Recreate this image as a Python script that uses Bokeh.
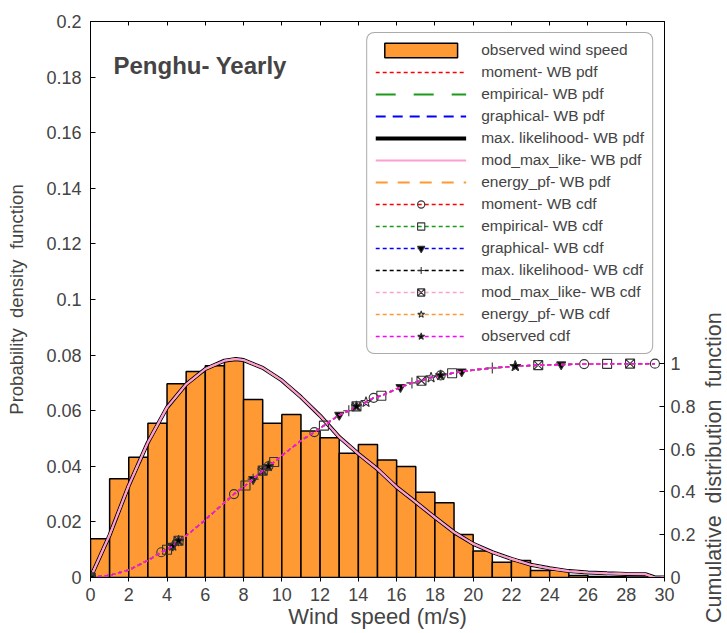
import math
from bokeh.plotting import figure
from bokeh.models import Range1d, LinearAxis, FixedTicker, Legend, LegendItem, Label
from bokeh.embed import file_html
from bokeh.resources import INLINE

# ---------------- data ----------------
bin_left = list(range(0, 30))
obs_pdf = [0.0139, 0.0355, 0.0433, 0.0555, 0.0697, 0.0741, 0.0762, 0.0781, 0.0640, 0.0555,
           0.0586, 0.0527, 0.0503, 0.0447, 0.0478, 0.0423, 0.0399, 0.0307, 0.0269, 0.0155,
           0.0095, 0.0055, 0.0061, 0.0025, 0.0026, 0.0007, 0.0004, 0.0003, 0.0002, 0.0001]

pdf_x = [0, 1, 2, 3, 4, 5, 6, 7, 7.6, 8, 9, 10, 11, 12, 13, 14, 15, 16, 17, 18, 19, 20,
         21, 22, 23, 24, 25, 26, 27, 28, 29, 29.5, 30]
pdf_fit = [0.0, 0.0153, 0.0331, 0.0486, 0.0612, 0.0695, 0.0750, 0.0780, 0.0786, 0.0782,
           0.0754, 0.0709, 0.0649, 0.0582, 0.0505, 0.0445, 0.0390, 0.0325, 0.0271, 0.0216,
           0.0163, 0.0121, 0.0091, 0.0067, 0.0046, 0.0033, 0.0023, 0.0018, 0.0015, 0.0013,
           0.0012, 0.0, 0.0]

cdf_x = [0, 1, 2, 3, 3.7, 4.0, 4.3, 4.6, 5, 6, 7, 7.5, 7.8, 8.1, 8.5, 9.0, 9.3, 9.6, 10, 11,
         11.7, 12.2, 13, 13.5, 13.9, 14.4, 14.8, 15.2, 15.7, 16.2, 16.8, 17.3, 17.8, 18.3,
         18.9, 19.4, 20, 21, 22.2, 23.4, 24.6, 25.8, 27.0, 28.2, 29.5]
cdf_y = [0.0, 0.01, 0.035, 0.08, 0.118, 0.13, 0.148, 0.172, 0.195, 0.27, 0.35, 0.39, 0.41,
         0.43, 0.46, 0.50, 0.52, 0.54, 0.57, 0.64, 0.68, 0.71, 0.76, 0.78, 0.80, 0.82, 0.84,
         0.85, 0.87, 0.89, 0.91, 0.92, 0.935, 0.945, 0.955, 0.963, 0.97, 0.98, 0.988, 0.993,
         0.996, 0.998, 0.999, 1.0, 1.0]

mk_moment = [0, 3.7, 7.5, 9.3, 11.7, 14.8, 18.3, 25.8, 29.5]
mk_empirical = [0, 4.0, 8.1, 9.6, 12.2, 15.2, 18.9, 27.0]
mk_graphical = [0, 4.3, 8.5, 13.0, 16.2, 19.4, 24.6]
mk_maxlike = [0, 4.6, 8.5, 13.5, 16.8, 21.0]
mk_modmax = [0, 4.6, 9.0, 13.9, 17.3, 23.4, 28.2]
mk_energy = [0, 4.3, 9.0, 14.4, 17.8, 22.2]
mk_observed = [0, 4.6, 9.3, 13.9, 18.3, 22.2]

x_ticks = list(range(0, 31, 2))
pdf_ticks = [0, 0.02, 0.04, 0.06, 0.08, 0.1, 0.12, 0.14, 0.16, 0.18, 0.2]
pdf_tick_labels = ["0", "0.02", "0.04", "0.06", "0.08", "0.1", "0.12", "0.14", "0.16", "0.18", "0.2"]
cdf_ticks = [0, 0.2, 0.4, 0.6, 0.8, 1.0]
cdf_tick_labels = ["0", "0.2", "0.4", "0.6", "0.8", "1"]

FONT = "Liberation Sans"
NB = "\u00a0"
cdf_lookup = dict(zip(cdf_x, cdf_y))

p = figure(width=727, height=633, output_backend="svg", toolbar_location=None,
           x_range=Range1d(0, 30), y_range=Range1d(0, 0.2),
           min_border_left=90, min_border_right=63, min_border_top=21, min_border_bottom=56)
p.extra_y_ranges = {"cdf": Range1d(0, 2.6)}
p.xgrid.visible = False
p.ygrid.visible = False
p.outline_line_color = "black"
p.outline_line_width = 1
p.background_fill_color = "white"
p.border_fill_color = "white"

# axes
xa = p.xaxis[0]
xa.ticker = FixedTicker(ticks=x_ticks)
xa.major_tick_in = 0
xa.major_tick_out = 4
xa.minor_tick_line_color = None
xa.major_label_standoff = 6
xa.major_label_text_font = FONT
xa.major_label_text_font_size = "18px"
xa.axis_label = "Wind" + NB + " speed (m/s)"
xa.axis_label_text_font = FONT
xa.axis_label_text_font_size = "22px"
xa.axis_label_text_font_style = "normal"
xa.axis_label_standoff = 0

ya = p.yaxis[0]
ya.ticker = FixedTicker(ticks=pdf_ticks)
ya.major_label_overrides = {t: l for t, l in zip(pdf_ticks, pdf_tick_labels)}
ya.major_tick_in = 5
ya.major_tick_out = 0
ya.minor_tick_line_color = None
ya.major_label_standoff = 9
ya.major_label_text_font = FONT
ya.major_label_text_font_size = "18px"
ya.axis_label = "Probability" + NB + " density" + NB + " function"
ya.axis_label_text_font = FONT
ya.axis_label_text_font_size = "18.5px"
ya.axis_label_text_font_style = "normal"
ya.axis_label_standoff = 16

top = LinearAxis(ticker=FixedTicker(ticks=x_ticks), major_tick_in=4, major_tick_out=0,
                 minor_tick_line_color=None,
                 major_label_overrides={t: "" for t in x_ticks},
                 major_label_standoff=0)
p.add_layout(top, "above")

ra = LinearAxis(y_range_name="cdf", ticker=FixedTicker(ticks=cdf_ticks),
                major_label_overrides={t: l for t, l in zip(cdf_ticks, cdf_tick_labels)},
                major_tick_in=5, major_tick_out=0, minor_tick_line_color=None,
                major_label_standoff=6, major_label_text_font=FONT,
                major_label_text_font_size="18px")
p.add_layout(ra, "right")

# bars
bars = p.vbar(x=[b + 0.5 for b in bin_left], top=obs_pdf, width=1, bottom=0,
              fill_color="#ff9933", line_color="black", line_width=1.5)

# pdf curves
r_ml = p.line(pdf_x, pdf_fit, line_color="black", line_width=4)
r_mom = p.line(pdf_x, pdf_fit, line_color="red", line_width=1.5, line_dash="4 3")
r_emp = p.line(pdf_x, pdf_fit, line_color="#1a9a1a", line_width=1.8, line_dash="20 18")
r_gra = p.line(pdf_x, pdf_fit, line_color="blue", line_width=1.8, line_dash="10 7")
r_en = p.line(pdf_x, pdf_fit, line_color="#ff9933", line_width=1.8, line_dash="12 10")
r_mm = p.line(pdf_x, pdf_fit, line_color="#ff9fd0", line_width=2.2)

# cdf curves
def cdf_series(color, marker, mk, fill, size=9, width=1.5):
    ln = p.line(cdf_x, cdf_y, line_color=color, line_width=width, line_dash="4 3",
                y_range_name="cdf")
    sc = p.scatter([x for x in mk], [cdf_lookup[x] for x in mk], marker=marker, size=size,
                   line_color="#333333", fill_color=fill, line_width=1.1, y_range_name="cdf")
    return [ln, sc]

c_mom = cdf_series("red", "circle", mk_moment, None)
c_emp = cdf_series("#1a9a1a", "square", mk_empirical, None)
c_gra = cdf_series("blue", "inverted_triangle", mk_graphical, "black")
c_ml = cdf_series("black", "cross", mk_maxlike, None, size=11)
c_mm = cdf_series("#ff9fd0", "square_x", mk_modmax, None)
c_en = cdf_series("#ff9933", "star", mk_energy, None, size=11)
c_obs = cdf_series("magenta", "star", mk_observed, "black", size=11)

items = [
    LegendItem(label="observed wind speed", renderers=[bars]),
    LegendItem(label="moment- WB pdf", renderers=[r_mom]),
    LegendItem(label="empirical- WB pdf", renderers=[r_emp]),
    LegendItem(label="graphical- WB pdf", renderers=[r_gra]),
    LegendItem(label="max. likelihood- WB pdf", renderers=[r_ml]),
    LegendItem(label="mod_max_like- WB pdf", renderers=[r_mm]),
    LegendItem(label="energy_pf- WB pdf", renderers=[r_en]),
    LegendItem(label="moment- WB cdf", renderers=c_mom),
    LegendItem(label="empirical- WB cdf", renderers=c_emp),
    LegendItem(label="graphical- WB cdf", renderers=c_gra),
    LegendItem(label="max. likelihood- WB cdf", renderers=c_ml),
    LegendItem(label="mod_max_like- WB cdf", renderers=c_mm),
    LegendItem(label="energy_pf- WB cdf", renderers=c_en),
    LegendItem(label="observed cdf", renderers=c_obs),
]
legend = Legend(items=items, location="top_right", margin=11, padding=8, spacing=4,
                glyph_width=91, glyph_height=18, label_height=18, label_standoff=15,
                label_text_font=FONT, label_text_font_size="15.5px",
                border_line_color="#555555", border_line_width=1.5,
                background_fill_color="white", background_fill_alpha=1)
if "border_radius" in Legend.properties():
    legend.border_radius = 8
p.add_layout(legend)

p.add_layout(Label(x=1.2, y=0.184, text="Penghu- Yearly", text_font=FONT,
                   text_font_size="24px", text_font_style="bold",
                   text_baseline="middle", text_align="left"))

# title of the right (cdf) axis, placed in the right side panel so it is not clipped
cdf_title = "Cumulative" + NB + " distribution" + NB + " function"
p.add_layout(Label(x=32.58, y=0.514, y_range_name="cdf", text=cdf_title,
                   angle=math.pi / 2, text_font=FONT, text_font_size="21.5px",
                   text_baseline="middle", text_align="center"), "right")

open("out.html", "w").write(file_html(p, INLINE))
